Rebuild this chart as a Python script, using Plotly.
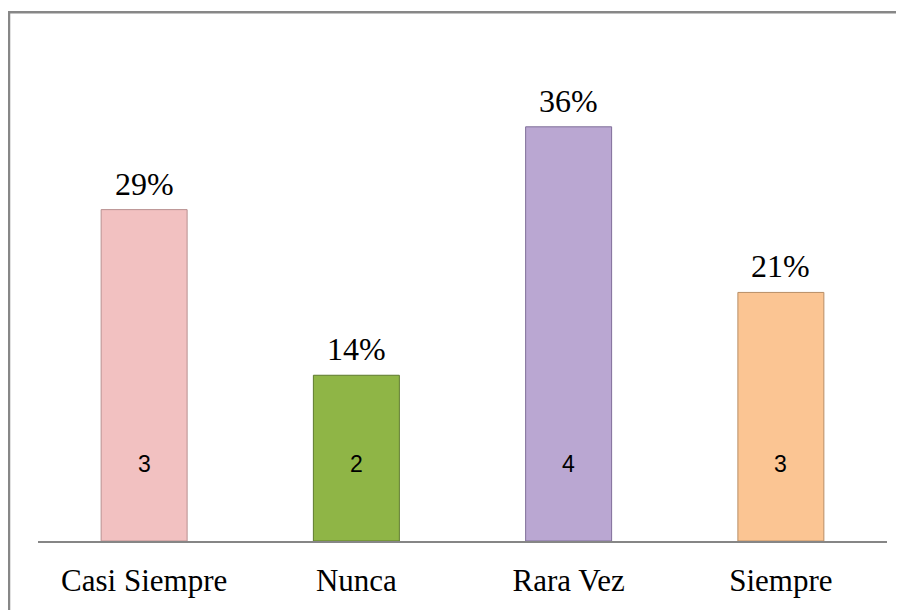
import plotly.graph_objects as go

categories = ["Casi Siempre", "Nunca", "Rara Vez", "Siempre"]
percent_values = [28.57, 14.29, 35.71, 21.43]
percent_labels = ["29%", "14%", "36%", "21%"]
count_labels = ["3", "2", "4", "3"]
bar_colors = ["#F2C1C1", "#8FB546", "#BAA7D2", "#FBC593"]
line_colors = ["#B89090", "#5E7A2E", "#7F6E99", "#B88E66"]

# page has an 8px body margin; figure is shrunk/offset to compensate
W, H = 896, 602
L, R, T, B = 30, 17, 34, 64
ymax = 42.85

fig = go.Figure()
fig.add_trace(go.Bar(
    x=categories, y=percent_values,
    marker=dict(color=bar_colors, line=dict(color=line_colors, width=1)),
    width=0.405, hoverinfo="skip",
))

for c, v, p, n in zip(categories, percent_values, percent_labels, count_labels):
    fig.add_annotation(x=c, y=v, text=p, showarrow=False, yanchor="bottom", yshift=6,
                       font=dict(family="Liberation Serif", size=32, color="#000000"))
    fig.add_annotation(x=c, y=0, text=n, showarrow=False, yanchor="middle", yshift=77,
                       font=dict(family="Liberation Sans", size=23, color="#000000"))

pw = W - L - R
ph = H - T - B
base = H - B
fig.add_shape(type="rect", xref="paper", yref="paper",
              x0=(1 - L) / pw, x1=(W + 20 - L) / pw,
              y0=(base - (H + 20)) / ph, y1=(base - 4) / ph,
              line=dict(color="#878787", width=2.5), fillcolor="rgba(0,0,0,0)", layer="below")

fig.update_layout(
    width=W, height=H,
    margin=dict(l=L, r=R, t=T, b=B),
    paper_bgcolor="white", plot_bgcolor="white",
    showlegend=False,
    xaxis=dict(showline=True, linecolor="#868686", linewidth=2, ticks="",
               tickfont=dict(family="Liberation Serif", size=31, color="#000000"),
               ticklabelstandoff=11, showgrid=False, zeroline=False),
    yaxis=dict(range=[0, ymax * (ph / 502)], visible=False, showgrid=False, zeroline=False),
)

fig.write_html("out.html")
